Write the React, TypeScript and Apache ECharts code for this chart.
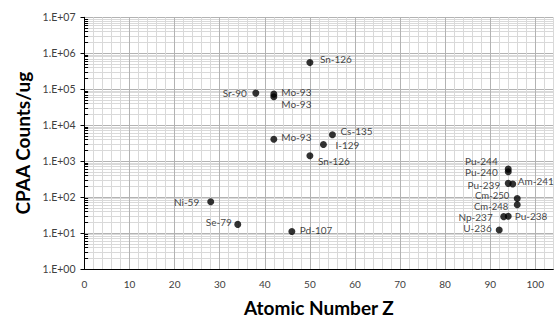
import React, { useEffect, useRef } from "react";
import * as echarts from "echarts";

const isotopes = ["Sn-126", "Sr-90", "Mo-93", "Mo-93", "Mo-93", "Cs-135", "I-129", "Sn-126", "Ni-59", "Se-79", "Pd-107", "Pu-244", "Pu-240", "Pu-239", "Am-241", "Cm-250", "Cm-248", "Np-237", "Pu-238", "U-236"];
const atomicNumbers = [50, 38, 42, 42, 42, 55, 53, 50, 28, 34, 46, 94, 94, 94, 95, 96, 96, 93, 94, 92];
const countsPerUg = [5.5e5, 7.8e4, 7.3e4, 6.2e4, 4.05e3, 5.4e3, 2.9e3, 1.41e3, 74, 17.4, 11.1, 600, 508, 241, 232, 91.6, 61.5, 28.6, 29.2, 12.2];

// label placement per point: [side, distance, dy, fontSize]
const labelPlacement: [string, number, number, number][] = [
  ["right", 6.5, -3.6, 10],
  ["left", 5.5, 0, 10],
  ["right", 4, -1.7, 10],
  ["right", 4, 7.4, 10],
  ["right", 4, -2, 10],
  ["right", 4.5, -4, 10],
  ["right", 8.5, 0.6, 10],
  ["right", 4.5, 5.4, 10],
  ["left", 8, 0, 10],
  ["left", 2.5, -2, 10],
  ["right", 4.5, -1.6, 10],
  ["left", 7, -8, 10],
  ["left", 7, 0.6, 10],
  ["left", 4.5, 2, 10],
  ["right", 1.5, -2.6, 10],
  ["left", 4.5, -2.8, 9.5],
  ["left", 5.5, 1.8, 9.5],
  ["left", 7.5, 0, 10],
  ["right", 3, 0, 10],
  ["left", 4, -1.7, 10],
];

const xTicks = [0, 10, 20, 30, 40, 50, 60, 70, 80, 90, 100];
const decades = [1, 10, 100, 1e3, 1e4, 1e5, 1e6];
const minorMultipliers = [2, 3, 4, 5, 6, 7, 8, 9];

const FONT = "Lato";

export default function App() {
  const ref = useRef<HTMLDivElement>(null);
  useEffect(() => {
    if (!ref.current) return;
    const chart = echarts.init(ref.current, null, { renderer: "svg" });
    const minorValues: number[] = [];
    decades.forEach((d) => minorMultipliers.forEach((m) => minorValues.push(m * d)));

    const points = atomicNumbers.map((zv, i) => {
      const [side, dist, dy, fs] = labelPlacement[i];
      return {
        value: [zv, countsPerUg[i]],
        name: isotopes[i],
        label: {
          show: true,
          position: side,
          distance: dist,
          offset: [0, dy],
          fontSize: fs,
          lineHeight: fs,
          formatter: isotopes[i],
        },
      };
    });

    chart.setOption({
      animation: false,
      grid: { left: 84.5, right: 3.7, top: 17.3, bottom: 45, containLabel: false },
      xAxis: {
        type: "value",
        min: 0,
        max: 104,
        interval: 2,
        z: 1,
        name: "Atomic Number Z",
        nameLocation: "middle",
        nameGap: 29,
        nameTextStyle: { fontFamily: FONT, fontWeight: "bold", fontSize: 19, color: "#000" },
        axisLine: { show: true, onZero: false, lineStyle: { color: "#000", width: 1 } },
        axisTick: { show: false },
        axisLabel: {
          interval: 0,
          fontFamily: FONT,
          fontSize: 10,
          color: "#404040",
          margin: 10,
          formatter: (v: number) => (xTicks.indexOf(v) >= 0 ? String(v) : ""),
        },
        splitLine: {
          show: true,
          lineStyle: { color: ["#b3b3b3", "#d9d9d9", "#d9d9d9", "#d9d9d9", "#d9d9d9"], width: 1 },
        },
      },
      yAxis: {
        type: "log",
        logBase: 10,
        min: 1,
        max: 1e7,
        z: 1,
        name: "CPAA Counts/ug",
        nameLocation: "middle",
        nameGap: 52,
        nameTextStyle: { fontFamily: FONT, fontWeight: "bold", fontSize: 19, color: "#000" },
        axisLine: { show: true, lineStyle: { color: "#000", width: 1 } },
        axisTick: { show: true, inside: false, length: 4, lineStyle: { color: "#000" } },
        axisLabel: {
          fontFamily: FONT,
          fontSize: 10.5,
          color: "#404040",
          margin: 9,
          formatter: (v: number) => {
            const e = Math.round(Math.log10(v));
            return "1.E+" + String(e).padStart(2, "0");
          },
        },
        splitLine: { show: true, lineStyle: { color: "#b3b3b3", width: 1 } },
      },
      series: [
        {
          type: "scatter",
          data: [],
          silent: true,
          z: 0,
          markLine: {
            silent: true,
            z: 0.5,
            symbol: "none",
            label: { show: false },
            animation: false,
            lineStyle: { color: "#d9d9d9", type: "solid", width: 1 },
            data: [
              ...minorValues.map((v) => [
                { coord: [0.3, v] },
                { coord: [104, v] },
              ]),
              ...minorValues.map((v) => [
                { coord: [0, v], lineStyle: { color: "#000", type: "solid", width: 1 } },
                { coord: [0.8, v] },
              ]),
            ],
          },
        },
        {
          type: "scatter",
          z: 3,
          symbol: "circle",
          symbolSize: 7,
          itemStyle: { color: "#000" },
          label: {
            fontFamily: FONT,
            fontSize: 10,
            color: "#111",
          },
          data: points,
        },
      ],
    });
    return () => chart.dispose();
  }, []);
  return <div ref={ref} style={{ width: 557, height: 322 }} />;
}

const _style = document.createElement("style");
_style.textContent = "body{margin:0}";
document.head.appendChild(_style);
